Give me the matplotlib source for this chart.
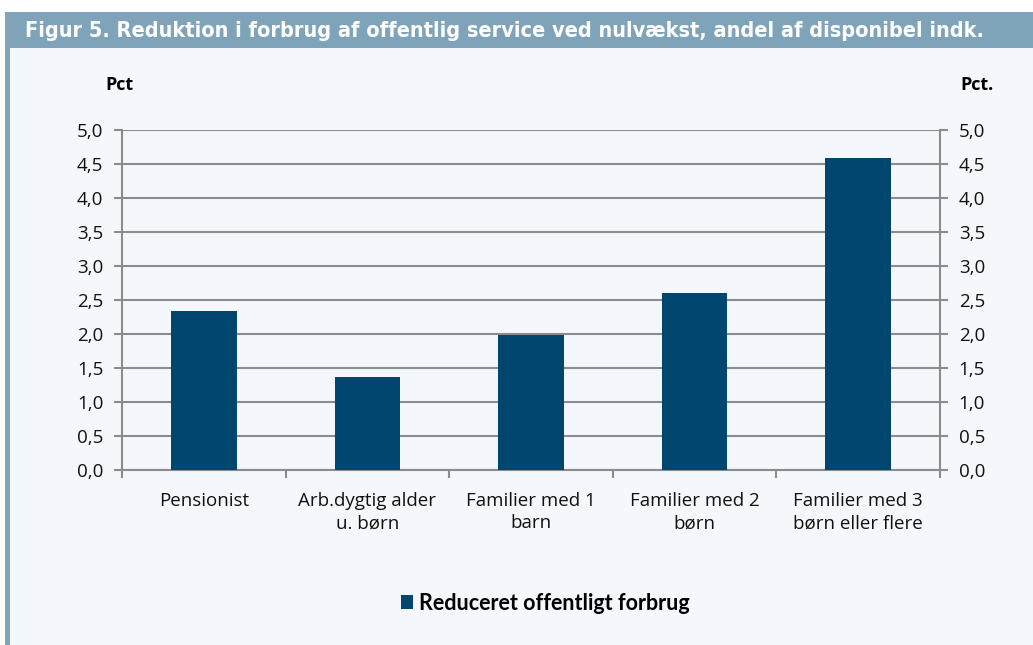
import matplotlib
matplotlib.use("Agg")
import matplotlib.pyplot as plt
from matplotlib.patches import Rectangle
import numpy as np

categories = ["Pensionist", "Arb.dygtig alder\nu. børn", "Familier med 1\nbarn",
              "Familier med 2\nbørn", "Familier med 3\nbørn eller flere"]
values = [2.34, 1.37, 1.98, 2.61, 4.59]
yticks = [0.0, 0.5, 1.0, 1.5, 2.0, 2.5, 3.0, 3.5, 4.0, 4.5, 5.0]
ytick_labels = ["0,0", "0,5", "1,0", "1,5", "2,0", "2,5", "3,0", "3,5", "4,0", "4,5", "5,0"]
series_name = "Reduceret offentligt forbrug"
title = "Figur 5. Reduktion i forbrug af offentlig service ved nulvækst, andel af disponibel indk."

W, H = 1033, 645
bg = "#f4f8fc"
band = "#7fa3b9"
bar_c = "#00466e"
grid_c = "#8c8c8c"

fig = plt.figure(figsize=(W/100, H/100), dpi=100)
fig.patch.set_facecolor("white")

# background panel
fig.patches.append(Rectangle((5/W, 0), 1 - 5/W, 1 - 48/H, transform=fig.transFigure,
                             facecolor=bg, edgecolor="none", zorder=-3))
# left stripe
fig.patches.append(Rectangle((5/W, 0), 5/W, 1 - 48/H, transform=fig.transFigure,
                             facecolor=band, edgecolor="none", zorder=-2))
# title band
fig.patches.append(Rectangle((5/W, 1 - 48/H), 1 - 5/W, 36/H, transform=fig.transFigure,
                             facecolor=band, edgecolor="none", zorder=-2))
t = fig.text(25/W, 1 - 31/H, title, color="white", fontsize=16, fontweight="bold",
             family="DejaVu Sans", stretch="condensed", va="center", ha="left")

x0, x1 = 122, 940
y0, y1 = 470, 130
ax = fig.add_axes([x0/W, 1 - y0/H, (x1 - x0)/W, (y0 - y1)/H])
ax.set_facecolor("none")
x = np.arange(len(categories))
ax.bar(x, values, width=0.4, color=bar_c, zorder=3, label=series_name)
ax.set_xlim(-0.5, len(categories) - 0.5)
ax.set_ylim(0, 5)
ax.set_yticks(yticks)
ax.set_yticklabels(ytick_labels)
ax.yaxis.grid(True, color=grid_c, linewidth=1.5, zorder=1)
ax.set_axisbelow(True)
ax.spines["top"].set_visible(False)
for s in ["left", "right", "bottom"]:
    ax.spines[s].set_color(grid_c)
    ax.spines[s].set_linewidth(1.5)
ax.tick_params(axis="y", which="both", direction="out", length=5.5, width=1.5, color=grid_c,
               left=True, right=True, labelleft=True, labelright=True, labelsize=13.5, pad=8)
ax.set_xticks(np.arange(-0.5, len(categories), 1.0))
ax.set_xticklabels([])
ax.set_xticks(x, minor=True)
ax.set_xticklabels(categories, minor=True, fontsize=13.5, linespacing=1.3)
ax.tick_params(axis="x", which="major", direction="out", length=5.5, width=1.5, color=grid_c)
ax.tick_params(axis="x", which="minor", length=0, pad=16)
for lab in ax.get_yticklabels() + ax.get_xticklabels(minor=True):
    lab.set_family(["Open Sans", "DejaVu Sans"])
    lab.set_color("#111111")

fig.text(119/W, 1 - 85/H, "Pct", fontsize=13, fontweight="bold", ha="center", va="center",
         family=["Open Sans", "DejaVu Sans"])
fig.text(977/W, 1 - 85/H, "Pct.", fontsize=13, fontweight="bold", ha="center", va="center",
         family=["Open Sans", "DejaVu Sans"])

leg = fig.legend(loc="center", bbox_to_anchor=(545/W, 1 - 603/H), frameon=False,
                 prop={"family": "Lato", "weight": "bold", "size": 15.5},
                 handlelength=0.6, handleheight=0.6, handletextpad=0.25)

# fit the title into the band width
fig.canvas.draw()
bb = t.get_window_extent()
target = 962
t.set_fontsize(16 * target / bb.width)

fig.savefig("out.png", dpi=100, facecolor=fig.get_facecolor())
